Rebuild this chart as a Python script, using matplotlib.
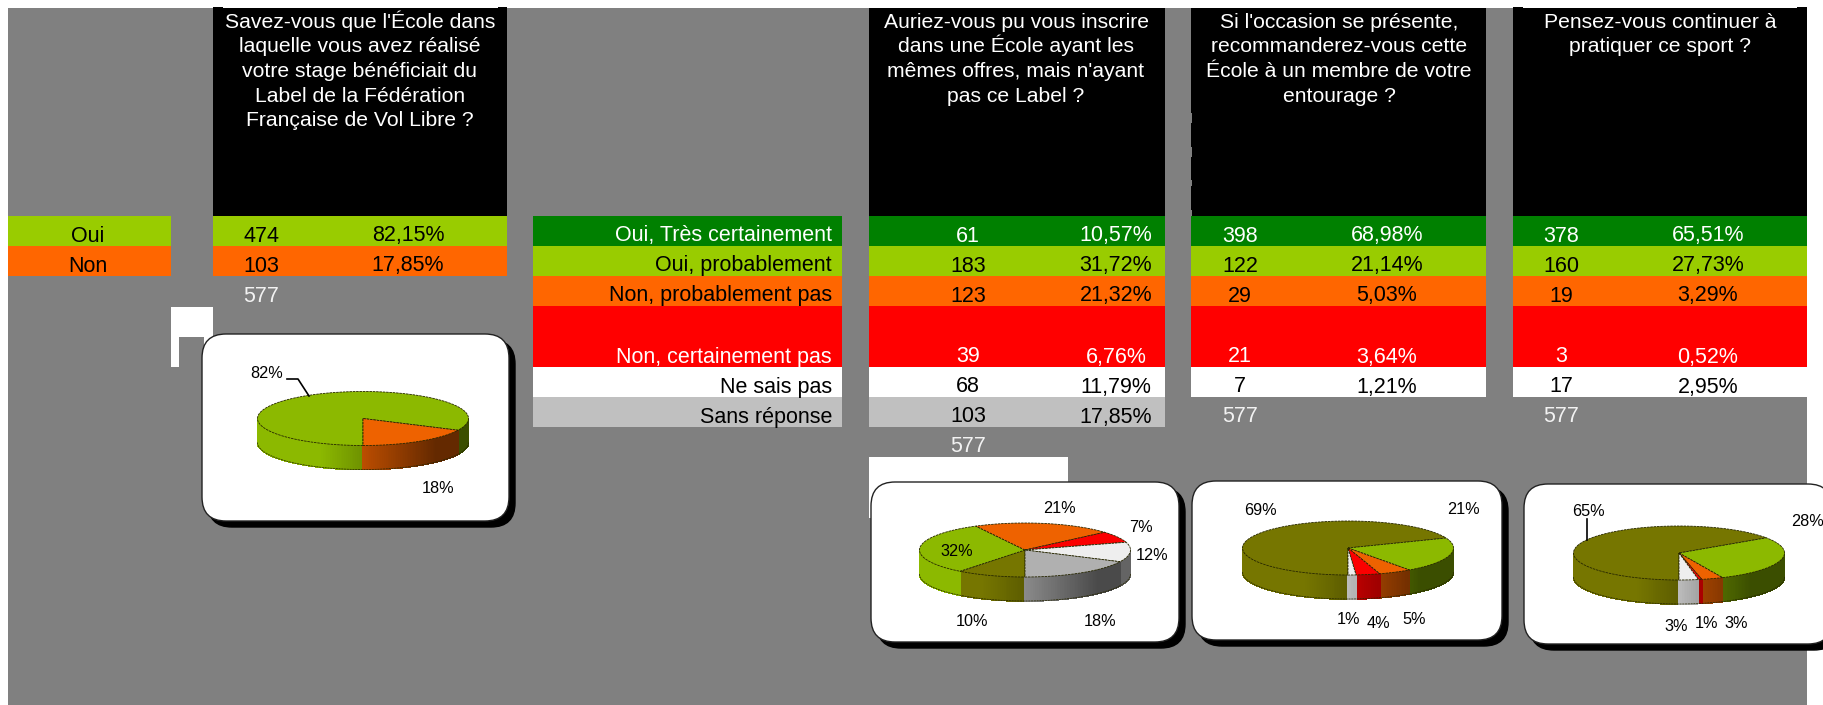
#!/usr/bin/env python3
"""Survey tables with 3D-looking pie charts (Label FFVL)."""

import numpy as np
import matplotlib
matplotlib.use("Agg")
import matplotlib.pyplot as plt
from matplotlib.colors import to_rgb
from matplotlib.patches import FancyBboxPatch, Rectangle

plt.rcParams['font.family'] = ['Liberation Sans', 'DejaVu Sans']

# Data
yes_no_labels = ["Oui", "Non"]
q1_counts = [474, 103]
q1_pcts = ["82,15%", "17,85%"]
q1_total = 577

scale_labels = ["Oui, Très certainement", "Oui, probablement", "Non, probablement pas",
                "Non, certainement pas", "Ne sais pas", "Sans réponse"]
q2_counts = [61, 183, 123, 39, 68, 103]
q2_pcts = ["10,57%", "31,72%", "21,32%", "6,76%", "11,79%", "17,85%"]
q2_total = 577
q3_counts = [398, 122, 29, 21, 7]
q3_pcts = ["68,98%", "21,14%", "5,03%", "3,64%", "1,21%"]
q3_total = 577
q4_counts = [378, 160, 19, 3, 17]
q4_pcts = ["65,51%", "27,73%", "3,29%", "0,52%", "2,95%"]
q4_total = 577

q1_title = ["Savez-vous que l'École dans", "laquelle vous avez réalisé", "votre stage bénéficiait du",
            "Label de la Fédération", "Française de Vol Libre ?"]
q2_title = ["Auriez-vous pu vous inscrire", "dans une École ayant les", "mêmes offres, mais n'ayant",
            "pas ce Label ?"]
q3_title = ["Si l'occasion se présente,", "recommanderez-vous cette", "École à un membre de votre",
            "entourage ?"]
q4_title = ["Pensez-vous continuer à", "pratiquer ce sport ?"]

# Colours
GREY = "#808080"
DARK_GREEN = "#008000"
GREEN = "#99CC00"
ORANGE = "#FF6600"
RED = "#FF0000"
SILVER = "#C0C0C0"
row_colors = [DARK_GREEN, GREEN, ORANGE, RED, "white", SILVER]
row_text = ["white", "black", "black", "white", "black", "black"]

PIE_OLIVE = "#767600"
PIE_GREEN = "#8CB900"
PIE_ORANGE = "#EE6200"
PIE_RED = "#FB0000"
PIE_WHITE = "#EEEEEE"
PIE_GREY = "#B0B0B0"

# Layout, in pixels of the picture
row_edges = [216, 246, 276, 306, 367, 397, 427]
CELL_SIZE = 15.5
TITLE_SIZE = 15.25
PIE_SIZE = 11.7

fig = plt.figure(figsize=(18.23, 7.05), dpi=100, facecolor="white")
ax = fig.add_axes([0, 0, 1, 1])
ax.set_xlim(0, 1823)
ax.set_ylim(705, 0)
ax.axis("off")


def cell(x0, x1, y0, y1, color, z=1):
    ax.add_patch(Rectangle((x0, y0), x1 - x0, y1 - y0, fc=color, ec="none", zorder=z))


def put(x, y, s, color="black", ha="center", size=CELL_SIZE):
    ax.text(x, y, s, color=color, ha=ha, va="baseline", fontsize=size, zorder=5)


def table(x0, x1, title, title_x, counts, pcts, count_x, pct_x, total, colors, text_colors, edges):
    cell(x0, x1, 8, edges[0], "black")
    for i, line in enumerate(title):
        put(title_x, 28 + i * 24.5, line, color="white", size=TITLE_SIZE)
    for i in range(len(counts)):
        cell(x0, x1, edges[i], edges[i + 1], colors[i])
        put(count_x, edges[i + 1] - 4.5, str(counts[i]), color=text_colors[i])
        put(pct_x, edges[i + 1] - 4.5, pcts[i], color=text_colors[i])
    put(count_x, edges[len(counts)] + 25.5, str(total), color="#F2F2F2")


def card(x0, y0, x1, y1):
    r = 24
    for dx, fc, ec, z in [(6, "black", "black", 2), (0, "white", "#222222", 3)]:
        ax.add_patch(FancyBboxPatch((x0 + r + dx, y0 + r + dx), x1 - x0 - 2 * r, y1 - y0 - 2 * r,
                                    boxstyle="round,pad=%d,rounding_size=%d" % (r, r),
                                    fc=fc, ec=ec, lw=1, zorder=z))


def shade(col, x):
    # sides get darker going left to right
    f = np.interp(x, [-0.4, 0.7], [1.0, 0.42])
    return tuple(c * f for c in to_rgb(col))


def pie3d(values, colors, cx, cy, rx=105.5, ry=27, depth=24):
    values = np.array(values, dtype=float)
    # first slice starts at 6 o'clock and they go clockwise
    angles = -90 - np.concatenate([[0], np.cumsum(values) / values.sum() * 360])
    for i in range(len(values)):
        a0, a1 = angles[i + 1], angles[i]
        steps = np.arange(a0, a1 + 0.5, 1.0)
        steps[-1] = a1
        # side wall, only the front half shows
        for t0, t1 in zip(steps[:-1], steps[1:]):
            if np.sin(np.radians((t0 + t1) / 2)) >= 0:
                continue
            xs = cx + rx * np.cos(np.radians([t0, t1, t1, t0]))
            ys = cy - ry * np.sin(np.radians([t0, t1, t1, t0])) + np.array([0, 0, depth, depth])
            c = shade(colors[i], np.cos(np.radians((t0 + t1) / 2)))
            ax.fill(xs, ys, fc=c, ec=c, lw=0.6, antialiased=False, zorder=4)
        # top of the slice
        xs = np.r_[cx, cx + rx * np.cos(np.radians(steps))]
        ys = np.r_[cy, cy - ry * np.sin(np.radians(steps))]
        ax.fill(xs, ys, fc=colors[i], ec="#262600", lw=0.6, ls=(0, (3, 1)), zorder=4.5)
    # bottom rim of the cylinder
    t = np.radians(np.arange(180, 361, 2))
    ax.plot(cx + rx * np.cos(t), cy - ry * np.sin(t) + depth, color="#262600", lw=0.5,
            ls=(0, (3, 1)), zorder=4.5)


# Background
ax.add_patch(Rectangle((8, 8), 1799, 697, fc=GREY, ec="none", zorder=0))

# Oui / Non legend and first table
cell(8, 171, 216, 246, GREEN)
cell(8, 171, 246, 276, ORANGE)
put(88, 241.5, yes_no_labels[0])
put(88, 271.5, yes_no_labels[1])
table(213, 507, q1_title, 360, q1_counts, q1_pcts, 261, 408, q1_total,
      [GREEN, ORANGE], ["black", "black"], row_edges[:3])

# Scale labels
for i, label in enumerate(scale_labels):
    cell(533, 842, row_edges[i], row_edges[i + 1], row_colors[i])
    put(832, row_edges[i + 1] - 4.5, label, color=row_text[i], ha="right")

table(869, 1165, q2_title, 1016, q2_counts, q2_pcts, 968, 1116, q2_total,
      row_colors, row_text, row_edges)
table(1191, 1486, q3_title, 1339, q3_counts, q3_pcts, 1240, 1387, q3_total,
      row_colors[:5], row_text[:5], row_edges[:6])
table(1513, 1807, q4_title, 1660, q4_counts, q4_pcts, 1561, 1708, q4_total,
      row_colors[:5], row_text[:5], row_edges[:6])

# Small scan leftovers on the header blocks
for x0, x1 in [(213, 223), (498, 507), (1513, 1523), (1797, 1807)]:
    cell(x0, x1, 7, 8, "black")
for y0, y1 in [(113, 123), (147, 157), (180, 186), (210, 216)]:
    cell(1191, 1192, y0, y1, GREY, z=1.5)

# White leftovers behind the charts
cell(171, 213, 307, 337, "white")
cell(171, 179, 337, 367, "white")
cell(204, 213, 337, 367, "white")
cell(869, 1068, 457, 518, "white")

# Charts
card(202, 334, 509, 521)
pie3d(q1_counts, [PIE_GREEN, PIE_ORANGE], 363, 418.5)
for x, y, s in [(267, 378, "82%"), (438, 493, "18%")]:
    put(x, y, s, size=PIE_SIZE)
ax.plot([287, 298, 309], [379, 379, 396], color="black", lw=1.2, zorder=6)

pie_colors = [PIE_OLIVE, PIE_GREEN, PIE_ORANGE, PIE_RED, PIE_WHITE, PIE_GREY]
card(871, 482, 1179, 642)
pie3d(q2_counts, pie_colors, 1025, 550)
for x, y, s in [(1059, 513, "21%"), (1141, 532, "7%"), (1152, 560, "12%"),
                (957, 556, "32%"), (972, 626, "10%"), (1100, 626, "18%")]:
    put(x, y, s, size=PIE_SIZE)

card(1192, 481, 1502, 640)
pie3d(q3_counts, pie_colors[:5], 1348, 548)
for x, y, s in [(1260, 515, "69%"), (1463, 514, "21%"), (1348, 624, "1%"),
                (1378, 628, "4%"), (1414, 624, "5%")]:
    put(x, y, s, size=PIE_SIZE)

card(1524, 484, 1832, 644)
pie3d(q4_counts, pie_colors[:5], 1679, 553)
for x, y, s in [(1588, 516, "65%"), (1808, 526, "28%"), (1676, 631, "3%"),
                (1706, 628, "1%"), (1736, 628, "3%")]:
    put(x, y, s, size=PIE_SIZE)
ax.plot([1587, 1587], [519, 540], color="black", lw=1.2, zorder=6)

fig.savefig("out.png", dpi=100, facecolor="white")
